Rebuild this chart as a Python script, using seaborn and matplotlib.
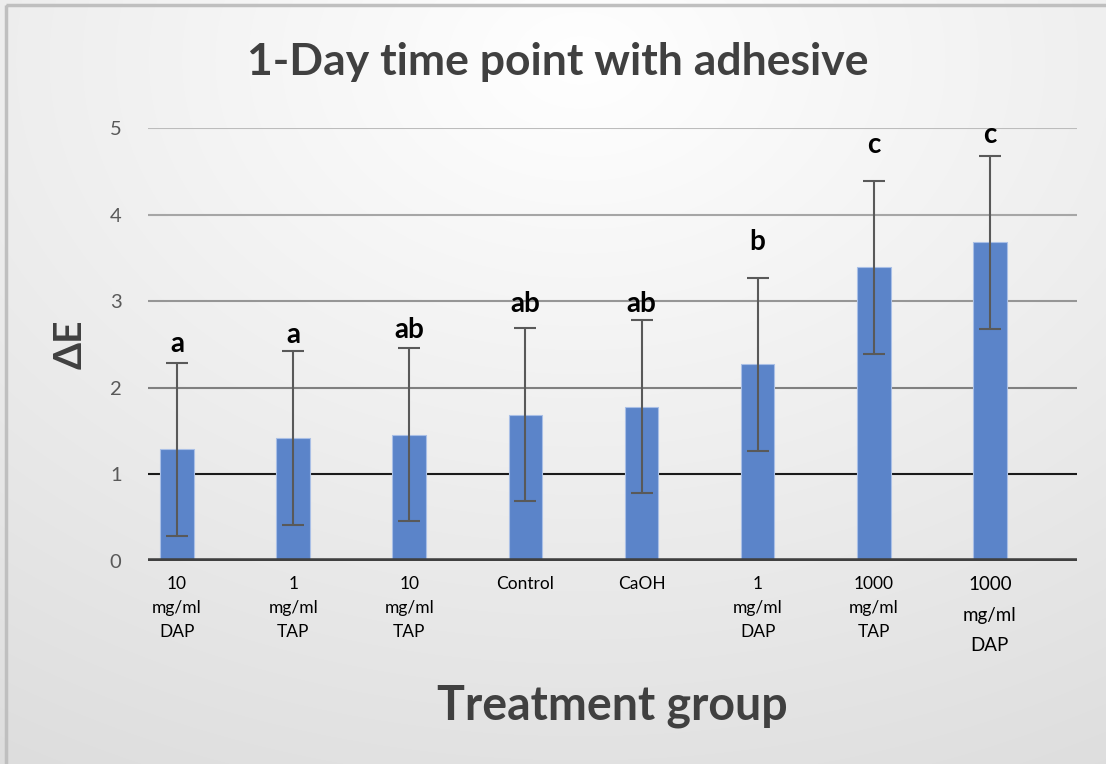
import numpy as np
import pandas as pd
import matplotlib
matplotlib.use("Agg")
import matplotlib.pyplot as plt
import seaborn as sns
from matplotlib.patches import Rectangle

# ---- data ----
categories = ["10\nmg/ml\nDAP", "1\nmg/ml\nTAP", "10\nmg/ml\nTAP", "Control",
              "CaOH", "1\nmg/ml\nDAP", "1000\nmg/ml\nTAP", "1000\nmg/ml\nDAP"]
delta_e = [1.29, 1.42, 1.46, 1.69, 1.78, 2.27, 3.39, 3.68]
errors = [1.0, 1.0, 1.0, 1.0, 1.0, 1.0, 1.0, 1.0]
letters = ["a", "a", "ab", "ab", "ab", "b", "c", "c"]
letter_y = [2.41, 2.52, 2.58, 2.88, 2.88, 3.59, 4.71, 4.83]

df = pd.DataFrame({"group": categories, "dE": delta_e})

sns.set_theme(style="white")
plt.rcParams["font.family"] = ["Lato", "DejaVu Sans"]

W, H = 1106, 764
fig = plt.figure(figsize=(W / 100, H / 100), dpi=100)

# background gradient
bg = fig.add_axes([0, 0, 1, 1], zorder=-10)
yy, xx = np.mgrid[0:H, 0:W]
r = np.sqrt(((xx - 580) / 1100.0) ** 2 + ((yy - 60) / 800.0) ** 2)
val = np.clip(1 - 0.13 * r, 0, 1)
bg.imshow(np.dstack([val, val, val]), aspect="auto", extent=[0, W, H, 0])
bg.add_patch(Rectangle((6, 5), W + 10, H + 10, fill=False, edgecolor="#bfbfbf", lw=2.5))
bg.set_xlim(0, W)
bg.set_ylim(H, 0)
bg.axis("off")

ax = fig.add_axes([148 / W, 1 - 561 / H, (1077 - 148) / W, (561 - 128) / H])
ax.patch.set_alpha(0)

sns.barplot(data=df, x="group", y="dE", ax=ax, color="#5B84C9", width=0.29,
            saturation=1, edgecolor="#a9bfe6", linewidth=0.8, zorder=3, errorbar=None)

xs = ax.get_xticks()
ax.errorbar(xs, delta_e, yerr=errors, fmt="none", ecolor="#595959",
            elinewidth=1.5, capsize=8, capthick=1.5, zorder=4)

for x, lab, ly in zip(xs, letters, letter_y):
    ax.text(x, ly, lab, ha="center", va="baseline", fontsize=20, fontweight="bold",
            color="black", zorder=5)

ax.set_ylim(0, 5)
ax.set_xlim(-0.25, 7.75)
grid_colors = {1: "#1a1a1a", 2: "#808080", 3: "#969696", 4: "#a6a6a6", 5: "#bcbcbc"}
for v, c in grid_colors.items():
    ax.axhline(v, color=c, lw=1.5, zorder=1)
ax.axhline(0, color="#404040", lw=4, zorder=6)

for s in ax.spines.values():
    s.set_visible(False)

ax.set_yticks([0, 1, 2, 3, 4, 5])
ax.tick_params(axis="y", length=0, pad=19, labelsize=14.5, labelcolor="#595959")
ax.tick_params(axis="x", length=0, pad=11, labelsize=12.5, labelcolor="black")
ax.set_xticks(xs)
ax.set_xticklabels(categories, linespacing=1.6)
tl = ax.get_xticklabels()
tl[-1].set_fontsize(13.5)
tl[-1].set_linespacing(1.95)

ax.set_xlabel("Treatment group", fontsize=33.5, fontweight="bold", color="#404040", labelpad=22)
ax.set_ylabel("ΔE", fontsize=28, fontweight="bold", color="#404040", labelpad=16)

fig.text(558 / W, 1 - 62 / H, "1-Day time point with adhesive", ha="center", va="center",
         fontsize=32, fontweight="bold", color="#404040")

fig.savefig("out.png", dpi=100)
